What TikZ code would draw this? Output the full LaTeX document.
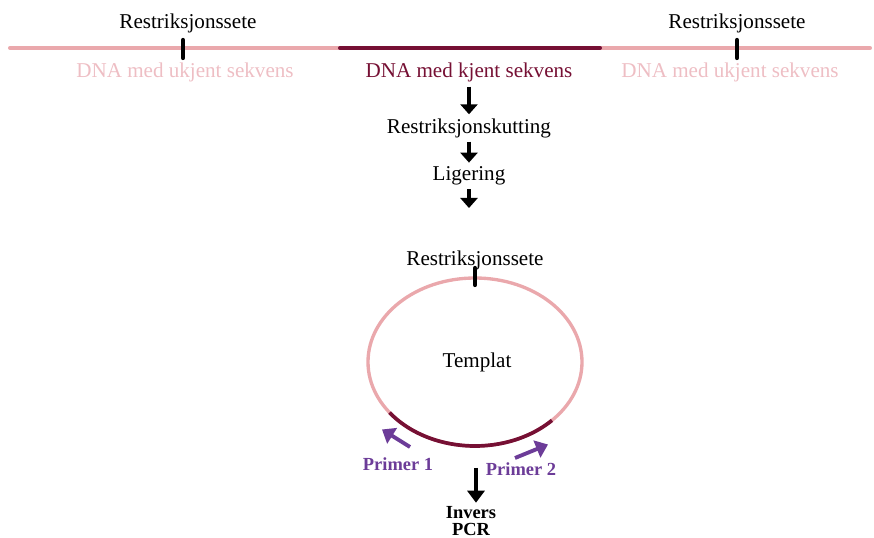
\documentclass[tikz,border=0pt]{standalone}
\usepackage{fontspec}
\setmainfont{Liberation Serif}
\usepackage{xcolor}
\usetikzlibrary{positioning,calc,arrows.meta}
\definecolor{dnapink}{RGB}{234,168,172}
\definecolor{dnalight}{RGB}{238,190,196}
\definecolor{dnadark}{RGB}{118,16,52}
\definecolor{primerpurple}{RGB}{108,60,152}
\tikzset{
	lab/.style={font=\fontsize{12}{14}\selectfont, inner sep=1pt},
	unk/.style={lab, text=dnalight},
	known/.style={lab, text=dnadark},
	prim/.style={font=\fontsize{10.5}{12}\selectfont\bfseries, text=primerpurple, inner sep=1pt},
	strand/.style={line width=2.3pt, line cap=round},
	site/.style={line width=2.4pt, line cap=round},
	steparr/.style={line width=2.2pt, -{Triangle[length=2mm,width=3.4mm]}},
	primarr/.style={line width=2.2pt, primerpurple, -{Triangle[length=2.4mm,width=3.6mm]}},
}

\begin{document}
\begin{tikzpicture}
	\useasboundingbox (0,0) rectangle (17.48,10.76);
	
	% ------------------- Linear DNA -------------------
	\draw[strand, dnapink] (0.2,9.8) -- (17.4,9.8);
	\draw[strand, dnadark] (6.8,9.8) -- (12.0,9.8);
	\draw[site] (3.66,9.96) -- (3.66,9.60);
	\draw[site] (14.74,9.96) -- (14.74,9.60);
	
	\node[lab] (siteL) at (3.76,10.30) {Restriksjonssete};
	\node[lab] (siteR) at (14.74,10.30) {Restriksjonssete};
	
	\node[unk] (unkL) at (3.7,9.32) {DNA med ukjent sekvens};
	\node[known] (kjent) at (9.38,9.32) {DNA med kjent sekvens};
	\node[unk] (unkR) at (14.6,9.32) {DNA med ukjent sekvens};
	
	% ------------------- Steps -------------------
	\node[lab] (kutt) at (9.38,8.2) {Restriksjonskutting};
	\node[lab] (lig) at (9.38,7.24) {Ligering};
	\coordinate (ligEnd) at (9.38,6.6);
	
	\draw[steparr, shorten <=0.6mm, shorten >=0.4mm] (kjent) -- (kutt);
	\draw[steparr, shorten <=0.4mm, shorten >=0.4mm] (kutt) -- (lig);
	\draw[steparr, shorten <=0.4mm] (lig) -- (ligEnd);
	
	% ------------------- Circular template -------------------
	\draw[line width=1.9pt, dnapink] (9.5,3.52) ellipse [x radius=2.14, y radius=1.68];
	\draw[line width=2.1pt, dnadark] (9.5,3.52) ++(217:2.14 and 1.68)
		arc [start angle=217, end angle=316, x radius=2.14, y radius=1.68];
	\draw[site] (9.5,5.40) -- (9.5,5.06);
	
	\node[lab] (siteC) at (9.5,5.56) {Restriksjonssete};
	\node[lab] (templ) at (9.54,3.52) {Templat};
	
	% ------------------- Primers -------------------
	\coordinate (p1a) at (8.2,1.82);
	\coordinate (p1b) at (7.64,2.17);
	\draw[primarr] (p1a) -- (p1b);
	\node[prim] (prim1) at (7.96,1.48) {Primer 1};
	
	\coordinate (p2a) at (10.3,1.6);
	\coordinate (p2b) at (10.96,1.87);
	\draw[primarr] (p2a) -- (p2b);
	\node[prim] (prim2) at (10.42,1.38) {Primer 2};
	
	% ------------------- Inverse PCR -------------------
	\coordinate (pcrTop) at (9.52,1.40);
	\node[font=\fontsize{10.5}{10}\selectfont\bfseries, align=center, inner sep=0pt] (pcr) at (9.42,0.34) {Invers\\PCR};
	\draw[steparr, line width=1.8pt, -{Triangle[length=2.4mm,width=3.4mm]}, shorten >=0.6mm] (pcrTop) -- (pcr.north -| pcrTop);
	
\end{tikzpicture}
\end{document}
